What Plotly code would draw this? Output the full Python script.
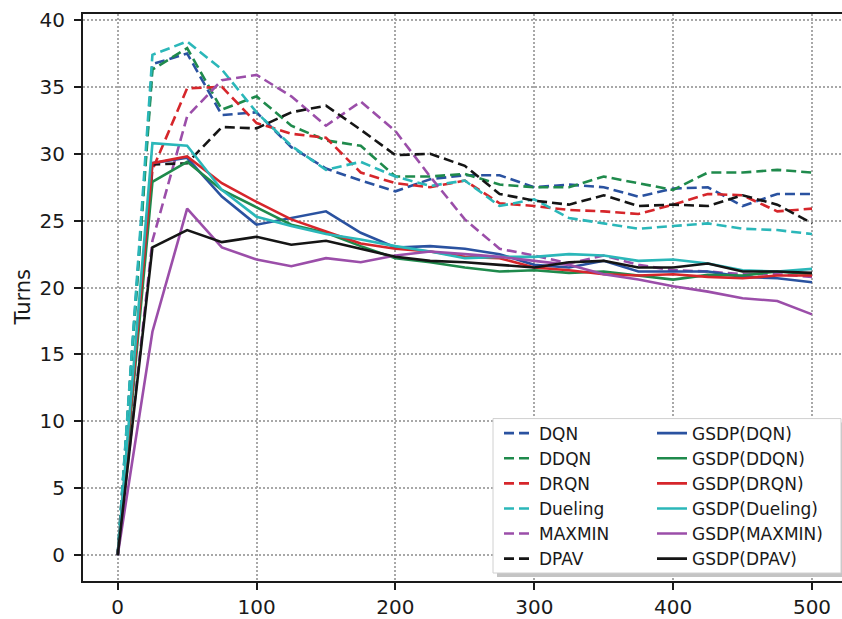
import plotly.graph_objects as go

steps = [0, 25, 50, 75, 100, 125, 150, 175, 200, 225, 250, 275, 300, 325, 350, 375, 400, 425, 450, 475, 500]

dqn = [0, 36.7, 37.5, 32.9, 33.1, 30.5, 28.9, 28.0, 27.2, 28.1, 28.4, 28.4, 27.5, 27.7, 27.5, 26.8, 27.4, 27.5, 26.1, 27.0, 27.0]
ddqn = [0, 36.3, 37.9, 33.3, 34.3, 32.1, 31.0, 30.6, 28.3, 28.3, 28.5, 27.7, 27.5, 27.5, 28.3, 27.8, 27.3, 28.6, 28.6, 28.8, 28.6]
drqn = [0, 28.8, 34.9, 35.0, 32.3, 31.5, 31.2, 28.6, 27.8, 27.5, 28.0, 26.3, 26.1, 25.8, 25.7, 25.5, 26.2, 27.0, 26.9, 25.7, 25.9]
dueling = [0, 37.4, 38.4, 36.3, 33.1, 30.6, 28.8, 29.4, 28.3, 27.6, 28.0, 26.1, 26.6, 25.2, 24.8, 24.4, 24.6, 24.8, 24.4, 24.3, 24.0]
maxmin = [0, 23.5, 32.8, 35.5, 35.9, 34.3, 32.1, 33.9, 31.7, 28.3, 25.1, 22.9, 22.4, 21.8, 22.4, 21.7, 21.3, 21.2, 21.0, 21.0, 20.8]
dpav = [0, 29.2, 29.3, 32.0, 31.9, 33.1, 33.6, 31.8, 29.9, 30.0, 29.1, 27.0, 26.5, 26.2, 26.9, 26.1, 26.2, 26.1, 26.9, 26.2, 24.8]

g_dqn = [0, 29.3, 29.7, 26.8, 24.7, 25.2, 25.7, 24.1, 23.0, 23.1, 22.9, 22.5, 21.7, 21.5, 22.0, 21.2, 21.2, 21.2, 20.8, 20.7, 20.4]
g_ddqn = [0, 27.9, 29.4, 27.3, 26.0, 24.7, 24.1, 23.1, 22.2, 21.9, 21.5, 21.2, 21.3, 21.1, 21.2, 20.9, 20.6, 20.95, 20.9, 21.2, 21.0]
g_drqn = [0, 29.3, 29.8, 27.8, 26.4, 25.1, 24.2, 23.3, 22.9, 22.7, 22.3, 22.2, 21.5, 21.3, 21.0, 20.9, 21.0, 20.8, 20.7, 20.9, 20.9]
g_dueling = [0, 30.8, 30.6, 27.3, 25.3, 24.6, 24.0, 23.6, 23.1, 22.7, 22.2, 22.3, 22.3, 22.5, 22.4, 22.0, 22.1, 21.8, 21.3, 21.2, 21.4]
g_maxmin = [0, 16.7, 25.9, 23.0, 22.1, 21.6, 22.2, 21.9, 22.4, 22.7, 22.5, 22.3, 22.0, 21.7, 21.0, 20.6, 20.1, 19.7, 19.2, 19.0, 18.0]
g_dpav = [0, 23.0, 24.3, 23.4, 23.8, 23.2, 23.5, 22.9, 22.3, 22.0, 21.9, 21.7, 21.5, 21.9, 22.0, 21.5, 21.5, 21.8, 21.2, 21.2, 21.1]

names = ["DQN", "DDQN", "DRQN", "Dueling", "MAXMIN", "DPAV"]
base_series = [dqn, ddqn, drqn, dueling, maxmin, dpav]
gsdp_series = [g_dqn, g_ddqn, g_drqn, g_dueling, g_maxmin, g_dpav]
colors = ["#2a52a0", "#1f8a4c", "#d6262b", "#2bb7b9", "#9b4ea9", "#151515"]

x_ticks = [0, 100, 200, 300, 400, 500]
y_ticks = [0, 5, 10, 15, 20, 25, 30, 35, 40]

fig = go.Figure()
for n, s, c in zip(names, base_series, colors):
    fig.add_trace(go.Scatter(x=steps, y=s, mode="lines", name=n,
                             line=dict(color=c, width=2.6, dash="10px,5px"),
                             legend="legend"))
for n, s, c in zip(names, gsdp_series, colors):
    fig.add_trace(go.Scatter(x=steps, y=s, mode="lines", name="GSDP(" + n + ")",
                             line=dict(color=c, width=2.6),
                             legend="legend2"))

W, H = 842, 619
L, T, B = 83, 14, 36
pw = W - L
ph = H - T - B

def px_x(p):
    return (p - L) / pw

def px_y(p):
    return (H - B - p) / ph

font = dict(family="DejaVu Sans", size=20, color="#1a1a1a")
leg_font = dict(family="DejaVu Sans", size=17, color="#1a1a1a")

axis_common = dict(
    showline=True, linecolor="#1a1a1a", linewidth=2,
    ticks="outside", ticklen=7, tickwidth=1.8, tickcolor="#1a1a1a",
    showgrid=True, gridcolor="#a8a8a8", gridwidth=1.5, griddash="2px,2px",
    zeroline=False, tickfont=font,
)

fig.update_layout(
    width=W, height=H,
    margin=dict(l=L, r=0, t=T, b=B),
    paper_bgcolor="white", plot_bgcolor="white",
    xaxis=dict(range=[-25, 521.6], tickvals=x_ticks, mirror=True, **axis_common),
    yaxis=dict(range=[-1.93, 40.45], tickvals=y_ticks, mirror=False,
               ticklabelstandoff=5, **axis_common),
    legend=dict(x=px_x(499), y=px_y(417), xanchor="left", yanchor="top",
                bgcolor="rgba(0,0,0,0)", borderwidth=0, font=leg_font,
                tracegroupgap=0),
    legend2=dict(x=px_x(652), y=px_y(417), xanchor="left", yanchor="top",
                 bgcolor="rgba(0,0,0,0)", borderwidth=0, font=leg_font,
                 tracegroupgap=0),
    showlegend=True,
)

# legend frame with shadow
fig.add_shape(type="rect", xref="paper", yref="paper", layer="above",
              x0=px_x(497), x1=px_x(846), y0=px_y(579), y1=px_y(424),
              fillcolor="#c4c4c4", line=dict(width=0))
fig.add_shape(type="rect", xref="paper", yref="paper", layer="above",
              x0=px_x(493), x1=px_x(841), y0=px_y(575), y1=px_y(420),
              fillcolor="white", line=dict(color="#d0d0d0", width=1))

fig.add_annotation(text="Turns", xref="paper", yref="paper",
                   x=px_x(22), y=0.5, xanchor="center", yanchor="middle",
                   textangle=-90, showarrow=False,
                   font=dict(family="DejaVu Sans", size=21, color="#1a1a1a"))

fig.write_html("out.html", config={"displayModeBar": False},
               post_script="document.body.style.margin='0';")
